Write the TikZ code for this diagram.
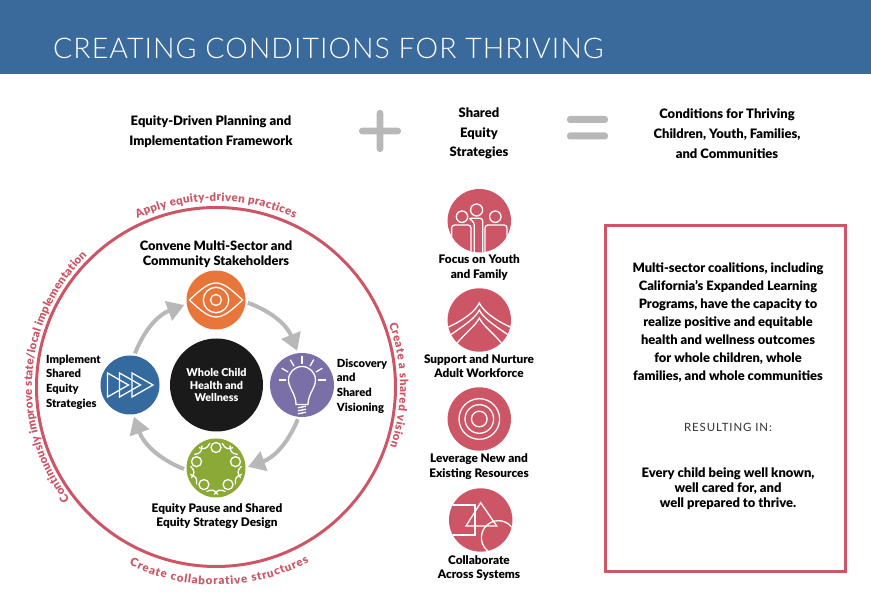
\documentclass[tikz,border=0pt]{standalone}
\usepackage{fontspec}
\usetikzlibrary{arrows.meta, decorations.text}
\setmainfont{Lato}[BoldFont={Lato Black}]
\newfontfamily\titlefont[LetterSpace=3.6]{Lato Light}
\newfontfamily\spacedfont[LetterSpace=8]{Lato}
\definecolor{bandblue}{HTML}{3A6A9C}
\definecolor{ringred}{HTML}{CC5566}
\definecolor{eyeorange}{HTML}{E8763A}
\definecolor{playblue}{HTML}{356A9E}
\definecolor{bulbpurple}{HTML}{7B6FA8}
\definecolor{peoplegreen}{HTML}{8BA936}
\definecolor{coreblack}{HTML}{1A1A1A}
\definecolor{flowgray}{HTML}{B8B8B8}
\newcommand{\lblsize}{\fontsize{11.8}{14.6}\selectfont}

\begin{document}
\begin{tikzpicture}[
  x=1pt, y=1pt,
  stagecircle/.style={circle, minimum size=59pt, inner sep=0pt, outer sep=2.5pt},
  flowarrow/.style={draw=flowgray, line width=4pt, -{Triangle[length=17pt, width=20pt]}},
  iconline/.style={draw=white, line width=1.3pt},
  boldlabel/.style={font=\lblsize\bfseries, text=black, align=center},
  sidelabel/.style={font=\fontsize{11.2}{14.6}\selectfont\bfseries, text=black, anchor=west, align=left, inner sep=0pt},
  strategydisc/.style={fill=ringred},
  ]
  \def\Rr{179.5}
  \def\Rd{31.7}
  \useasboundingbox (0,0) rectangle (871,613);

  % Title band
  \fill[bandblue] (0,539) rectangle (871,613);
  \node[anchor=base west, inner sep=0pt, text=white, font=\titlefont\fontsize{28.5}{30}\selectfont] (title) at (53,554) {CREATING CONDITIONS FOR THRIVING};

  % Equation row
  \node[font=\fontsize{13}{20}\selectfont\bfseries, align=center] (framework) at (211,481.5) {Equity-Driven Planning and\\Implementation Framework};
  \fill[flowgray, rounded corners=3pt] (359,478.7) rectangle (401,485.3);
  \fill[flowgray, rounded corners=3pt] (376.7,461) rectangle (383.3,503);
  \node[font=\fontsize{13}{19.5}\selectfont\bfseries, align=center] (shared) at (479,479.5) {Shared\\Equity\\Strategies};
  \fill[flowgray, rounded corners=3pt] (567,490) rectangle (608,497);
  \fill[flowgray, rounded corners=3pt] (567,473.5) rectangle (608,480.5);
  \node[font=\fontsize{13}{20}\selectfont\bfseries, align=center] (conditions) at (727,479.5) {Conditions for Thriving\\Children, Youth, Families,\\and Communities};

  % Outer ring and its curved texts
  \coordinate (ringc) at (216,226);
  \draw[ringred, line width=3pt] (ringc) circle (\Rr);
  \path[decorate, decoration={text along path, text align=fit to path,
    text={|\fontsize{11.5}{12}\selectfont\bfseries\color{ringred}|Apply equity-driven practices}}]
    (ringc) ++(115:186) arc (115:65:186);
  \path[decorate, decoration={text along path, text align=fit to path,
    text={|\fontsize{11.5}{12}\selectfont\bfseries\color{ringred}|Create a shared vision}}]
    (ringc) ++(20:184) arc (20:-19:184);
  \path[decorate, decoration={text along path, text align=fit to path,
    text={|\fontsize{11.5}{12}\selectfont\bfseries\color{ringred}|Create collaborative structures}}]
    (ringc) ++(-116:198) arc (-116:-62:198);
  \path[decorate, decoration={text along path, text align=fit to path,
    text={|\fontsize{11.5}{12}\selectfont\bfseries\color{ringred}|Continuously improve state/local implementation}}]
    (ringc) ++(217.5:184) arc (217.5:134.5:184);

  % Cycle of stages
  \node[circle, fill=coreblack, minimum size=93pt, inner sep=0pt, text=white, align=center,
    font=\fontsize{10.8}{12.7}\selectfont\bfseries] (core) at (216.5,228) {Whole Child\\Health and\\Wellness};
  \node[stagecircle, fill=eyeorange] (eye) at (216,313) {};
  \node[stagecircle, fill=bulbpurple, minimum size=64pt] (bulb) at (302,228) {};
  \node[stagecircle, fill=peoplegreen] (table) at (216,145) {};
  \node[stagecircle, fill=playblue] (play) at (130,228) {};

  \draw[flowarrow] (eye.-5) to[bend left=24] (bulb.98);
  \draw[flowarrow] (bulb.-97) to[bend left=24] (table.2);
  \draw[flowarrow] (table.182) to[bend left=24] (play.-83);
  \draw[flowarrow] (play.81) to[bend left=24] (eye.189);

  \node[boldlabel, font=\fontsize{12.9}{15}\selectfont\bfseries] (convene) at (216,358.8) {Convene Multi-Sector and\\Community Stakeholders};
  \node[sidelabel] (implement) at (46,231) {Implement\\Shared\\Equity\\Strategies};
  \node[sidelabel] (discovery) at (336.7,227) {Discovery\\and\\Shared\\Visioning};
  \node[boldlabel] (pause) at (217,97) {Equity Pause and Shared\\Equity Strategy Design};

  % Eye
  \begin{scope}[shift={(eye.center)}]
    \draw[iconline] (-26.5,0) .. controls (-14,12) and (-7,17) .. (0,17)
      .. controls (7,17) and (14,12) .. (26.5,0)
      .. controls (14,-12) and (7,-17) .. (0,-17)
      .. controls (-7,-17) and (-14,-12) .. (-26.5,0) -- cycle;
    \draw[iconline] (0,0) circle (12.7);
    \draw[iconline] (0,0) circle (5.5);
  \end{scope}

  % Bulb
  \begin{scope}[shift={(302,233)}]
    \draw[iconline] (-6,-24.5) .. controls (-6,-14) and (-13.5,-8) .. (-13.5,0)
      arc (180:0:13.5) .. controls (13.5,-8) and (6,-14) .. (6,-24.5) -- cycle;
    \foreach \ang in {0,30,...,180} {
      \draw[iconline] (\ang:16) -- (\ang:23.5);
    }
    \foreach \yy in {-27,-30,-33} {
      \draw[iconline] (-4,\yy-0.8) -- (4,\yy+0.8);
    }
  \end{scope}

  % Five seats
  \begin{scope}[shift={(table.center)}]
    \foreach \ang in {18,90,162,234,306} {
      \draw[iconline] (\ang:20.5) circle (5);
      \draw[iconline] (\ang+14:25.5) .. controls (\ang+26:21) and (\ang+32:22) .. (\ang+40:26.5);
      \draw[iconline] (\ang+58:25.5) .. controls (\ang+46:21) and (\ang+40:22) .. (\ang+32:26.5);
    }
  \end{scope}

  % Triple play
  \foreach \xx in {107.5,119.5,132} {
    \draw[iconline] (\xx,240) -- (\xx+21,228) -- (\xx,216) -- cycle;
  }

  % Strategy discs
  \node[circle, strategydisc, minimum size=2*\Rd pt, inner sep=0pt] (youth) at (479.3,392.3) {};
  \node[circle, strategydisc, minimum size=2*\Rd pt, inner sep=0pt] (workforce) at (479.3,293) {};
  \node[circle, strategydisc, minimum size=2*\Rd pt, inner sep=0pt] (resources) at (479.3,194) {};
  \node[circle, strategydisc, minimum size=2*\Rd pt, inner sep=0pt] (systems) at (480.7,93) {};

  \begin{scope}[shift={(youth.center)}]
    \clip (0,0) circle (\Rd);
    \draw[iconline] (-2.7,10.7) circle (6);
    \draw[iconline] (-17.3,4) circle (5.7);
    \draw[iconline] (16,4) circle (5.7);
    \draw[iconline, rounded corners=3pt] (-27.7,-32) -- (-27.7,-4.3) -- (-8.3,-4.3) -- (-8.3,-32);
    \draw[iconline, rounded corners=3pt] (5.7,-32) -- (5.7,-4.3) -- (27.7,-4.3) -- (27.7,-32);
    \draw[iconline, rounded corners=3pt] (-5,-32) -- (-5,-1.5) -- (-11,2.5) -- (3.5,2.5) -- (3.5,-32);
  \end{scope}

  \begin{scope}[shift={(workforce.center)}]
    \clip (0,0) circle (\Rd);
    \foreach \ya/\yb/\xb in {17/-7.5/32, 10/-15/29, 2/-24/23} {
      \draw[iconline] (-\xb,\yb) .. controls (-\xb*0.45,\yb*0.4+\ya*0.2) and (-4,\ya-8) .. (0,\ya)
        .. controls (4,\ya-8) and (\xb*0.45,\yb*0.4+\ya*0.2) .. (\xb,\yb);
    }
  \end{scope}

  \begin{scope}[shift={(resources.center)}]
    \foreach \rr in {20.3,14.3,7.8} {
      \draw[iconline] (0,0) circle (\rr);
    }
  \end{scope}

  \begin{scope}[shift={(systems.center)}]
    \clip (0,0) circle (\Rd);
    \draw[iconline] (-33,15) -- (-5.7,15) -- (-5.7,-15) -- (-33,-15);
    \draw[iconline] (0,17.3) -- (16,-6) -- (-14.7,-6) -- cycle;
    \draw[iconline] (17.7,-17.7) circle (17);
  \end{scope}

  \node[boldlabel] (youthtxt) at (479.3,345.5) {Focus on Youth\\and Family};
  \node[boldlabel] (workforcetxt) at (479,246.7) {Support and Nurture\\Adult Workforce};
  \node[boldlabel] (resourcestxt) at (479,146.5) {Leverage New and\\Existing Resources};
  \node[boldlabel] (systemstxt) at (479,45) {Collaborate\\Across Systems};

  % Result box
  \draw[ringred, line width=3pt] (605,41.5) rectangle (845.5,387);
  \node[font=\fontsize{12.9}{18}\selectfont\bfseries, align=center] (coalition) at (728,290.5) {Multi-sector coalitions, including\\California’s Expanded Learning\\Programs, have the capacity to\\realize positive and equitable\\health and wellness outcomes\\for whole children, whole\\families, and whole communities};
  \node[font=\spacedfont\fontsize{11.4}{12}\selectfont, text=black!80] (resulting) at (728,185.5) {RESULTING IN:};
  \node[font=\fontsize{13}{15}\selectfont\bfseries, align=center] (every) at (728,124) {Every child being well known,\\well cared for, and\\well prepared to thrive.};
\end{tikzpicture}
\end{document}
